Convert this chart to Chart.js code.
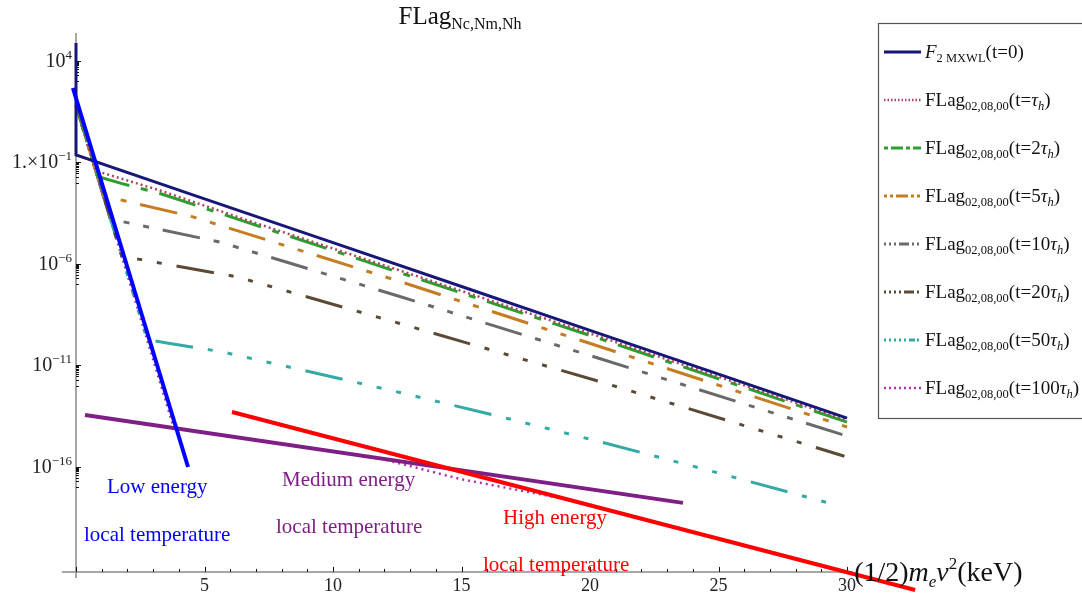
<!DOCTYPE html>
<html>
<head>
<meta charset="utf-8">
<script src="https://cdn.jsdelivr.net/npm/chart.js@4.4.1/dist/chart.umd.min.js"></script>
<style>
  html, body { margin: 0; padding: 0; background: #fff; }
</style>
</head>
<body>
<canvas id="fchart" width="1082" height="596"></canvas>
<script>
// energies in keV, values given as log10 of the distribution
var xMaxwell = [0, 0, 5, 10, 15, 20, 25, 30];
var logMaxwell = [4.89, -0.63, -2.79, -4.95, -7.11, -9.27, -11.43, -13.59];
var xTau1 = [0, 0.77, 3.27, 7, 12.6, 20.4, 30];
var logTau1 = [1.8, -1.41, -2.38, -3.99, -6.32, -9.59, -13.69];
var xTau2 = [0, 0.84, 1.79, 3.27, 10, 20.4, 30];
var logTau2 = [1.8, -1.69, -2.04, -2.53, -5.34, -9.69, -13.79];
var xTau5 = [0, 1.06, 1.6, 4.55, 12.6, 20.4, 30];
var logTau5 = [1.8, -2.64, -2.80, -3.68, -6.86, -10.08, -14.03];
var xTau10 = [0, 1.34, 1.79, 5.6, 12.6, 20.4, 30];
var logTau10 = [1.8, -3.79, -3.91, -4.92, -7.60, -10.67, -14.48];
var xTau20 = [0, 1.78, 2.41, 6.26, 12.6, 20.4, 29.9];
var logTau20 = [1.8, -5.62, -5.76, -6.63, -8.93, -11.80, -15.47];
var xTau50 = [0, 2.77, 3.54, 5.72, 8.72, 12.6, 16.5, 20.4, 24.3, 29.5];
var logTau50 = [1.8, -9.73, -9.89, -10.34, -11.20, -12.33, -13.52, -14.76, -16.06, -17.85];
var xTau100 = [0, 3.81, 11.83, 14.94, 18.83, 24.28, 30];
var logTau100 = [1.8, -14.08, -15.58, -16.59, -17.53, -19.30, -21.17];

// fitted "local temperature" lines
var xLow = [-0.12, 4.36];
var logLow = [2.67, -16.0];
var xMedium = [0.35, 23.62];
var logMedium = [-13.44, -17.77];
var xHigh = [6.07, 32.65];
var logHigh = [-13.29, -22.06];

var timeLabels = ['0', '', '2', '5', '10', '20', '50', '100'];
var xTicks = [5, 10, 15, 20, 25, 30];
var yTicks = [1e4, 1e-1, 1e-6, 1e-11, 1e-16];
var yTickBase = ['10', '1.\u00d710', '10', '10', '10'];
var yTickExp = ['4', '\u22121', '\u22126', '\u221211', '\u221216'];
var xAxisAt = 6.76e-22;

var serif = '"Liberation Serif", "Times New Roman", serif';

function pts(xs, ls) {
  return xs.map(function (x, i) { return { x: x, y: Math.pow(10, ls[i]) }; });
}

function font(size, italic) {
  return (italic ? 'italic ' : '') + size + 'px ' + serif;
}

// parts: [text, size, italic, dy]
function drawParts(ctx, x, y, parts, align) {
  var w = 0;
  parts.forEach(function (p) { ctx.font = font(p[1], p[2]); w += ctx.measureText(p[0]).width; });
  if (align === 'right') x -= w;
  if (align === 'center') x -= w / 2;
  parts.forEach(function (p) {
    ctx.font = font(p[1], p[2]);
    ctx.fillText(p[0], x, y + (p[3] || 0));
    x += ctx.measureText(p[0]).width;
  });
}

var styles = [
  { color: '#17177a', width: 3, dash: [], legendDash: [] },
  { color: '#a8465f', width: 2.5, dash: [2, 3], legendDash: [1.5, 2] },
  { color: '#2d9e2d', width: 3, dash: [38, 12, 7, 12], legendDash: [4, 3, 12, 3] },
  { color: '#c67d22', width: 3, dash: [6, 14, 6, 14, 38, 14], legendDash: [3, 3, 3, 3, 12, 3] },
  { color: '#6a6a6a', width: 3, dash: [6, 14, 6, 14, 6, 14, 38, 14], legendDash: [2, 3, 2, 3, 2, 3, 10, 3] },
  { color: '#5a4a36', width: 3, dash: [5, 15, 5, 15, 5, 15, 5, 15, 38, 15], legendDash: [2, 3, 2, 3, 2, 3, 2, 3, 10, 3] },
  { color: '#33aaa5', width: 3, dash: [5, 15, 5, 15, 5, 15, 5, 15, 5, 15, 38, 15], legendDash: [2, 3, 2, 3, 2, 3, 2, 3, 2, 3, 6, 2] },
  { color: '#b030b0', width: 2.5, dash: [2, 4], legendDash: [2, 3] }
];

var curves = [
  pts(xMaxwell, logMaxwell), pts(xTau1, logTau1), pts(xTau2, logTau2), pts(xTau5, logTau5),
  pts(xTau10, logTau10), pts(xTau20, logTau20), pts(xTau50, logTau50), pts(xTau100, logTau100)
];

var datasets = [
  { data: pts(xLow, logLow), borderColor: '#0000ff', borderWidth: 4 },
  { data: pts(xHigh, logHigh), borderColor: '#ff0000', borderWidth: 4 },
  { data: pts(xMedium, logMedium), borderColor: '#7f1f86', borderWidth: 4 }
];
curves.forEach(function (c, i) {
  datasets.push({ data: c, borderColor: styles[i].color, borderWidth: styles[i].width, borderDash: styles[i].dash });
});

var axesPlugin = {
  id: 'mathAxes',
  beforeDatasetsDraw: function (chart) {
    var ctx = chart.ctx, xs = chart.scales.x, ys = chart.scales.y;
    var x0 = xs.getPixelForValue(0), yAx = ys.getPixelForValue(xAxisAt);
    ctx.save();
    ctx.strokeStyle = '#8a8a8a';
    ctx.lineWidth = 1.5;
    ctx.beginPath();
    ctx.moveTo(x0, chart.chartArea.top + 3);
    ctx.lineTo(x0, yAx + 6);
    ctx.moveTo(xs.getPixelForValue(-0.55), yAx);
    ctx.lineTo(xs.getPixelForValue(30.2), yAx);
    ctx.stroke();

    ctx.strokeStyle = '#111';
    ctx.lineWidth = 1;
    ctx.beginPath();
    for (var k = 0; k <= 30; k++) {
      var px = Math.round(xs.getPixelForValue(k)) + 0.5;
      ctx.moveTo(px, yAx);
      ctx.lineTo(px, yAx - (k % 5 === 0 ? 5 : 3));
    }
    yTicks.forEach(function (v) {
      var py = Math.round(ys.getPixelForValue(v)) + 0.5;
      ctx.moveTo(x0, py);
      ctx.lineTo(x0 + 5, py);
      for (var m = 1; m <= 9; m++) {
        var pm = Math.round(ys.getPixelForValue(v * m / 10)) + 0.5;
        ctx.moveTo(x0, pm);
        ctx.lineTo(x0 + 3, pm);
      }
    });
    ctx.stroke();

    ctx.fillStyle = '#222';
    ctx.textBaseline = 'alphabetic';
    ctx.textAlign = 'left';
    xTicks.forEach(function (v) {
      drawParts(ctx, xs.getPixelForValue(v), yAx + 19, [[String(v), 18]], 'center');
    });
    yTicks.forEach(function (v, i) {
      var py = ys.getPixelForValue(v);
      drawParts(ctx, x0 - 4, py + 6, [[yTickBase[i], 20], [yTickExp[i], 13, false, -8]], 'right');
    });
    ctx.restore();
  },
  afterDatasetsDraw: function (chart) {
    var ctx = chart.ctx, xs = chart.scales.x, ys = chart.scales.y;
    var yAx = ys.getPixelForValue(xAxisAt);
    ctx.save();
    ctx.textBaseline = 'alphabetic';
    ctx.textAlign = 'left';
    ctx.fillStyle = '#111';
    // title
    drawParts(ctx, 460, 24, [['FLag', 25], ['Nc,Nm,Nh', 16, false, 5]], 'center');
    // x axis label
    drawParts(ctx, xs.getPixelForValue(30.2) + 2, yAx + 9, [
      ['(1/2)', 28], ['m', 28, true], ['e', 17, true, 6], ['v', 28, true], ['2', 17, false, -12], ['(keV)', 28]
    ]);

    // annotations
    ctx.textBaseline = 'middle';
    ctx.font = font(21);
    ctx.fillStyle = '#0000ff';
    ctx.fillText('Low energy', 107, 487);
    ctx.fillText('local temperature', 84, 535);
    ctx.fillStyle = '#7f1f86';
    ctx.fillText('Medium energy', 282, 480);
    ctx.fillText('local temperature', 276, 527);
    ctx.fillStyle = '#ff0000';
    ctx.fillText('High energy', 503, 518);
    ctx.fillText('local temperature', 483, 565);

    // legend
    ctx.fillStyle = '#fff';
    ctx.fillRect(878.5, 23.5, 220, 395);
    ctx.strokeStyle = '#555';
    ctx.lineWidth = 1.2;
    ctx.strokeRect(878.5, 23.5, 220, 395);
    ctx.textBaseline = 'alphabetic';
    styles.forEach(function (s, i) {
      var ry = 52 + i * 48;
      ctx.save();
      ctx.strokeStyle = s.color;
      ctx.lineWidth = s.width;
      ctx.setLineDash(s.legendDash);
      ctx.beginPath();
      ctx.moveTo(884, ry);
      ctx.lineTo(921, ry);
      ctx.stroke();
      ctx.restore();
      ctx.fillStyle = '#111';
      var parts;
      if (i === 0) {
        parts = [['F', 19, true], ['2 MXWL', 12.5, false, 4], ['(t=0)', 19]];
      } else {
        parts = [['FLag', 19], ['02,08,00', 12.5, false, 4], ['(t=' + timeLabels[i], 19], ['\u03c4', 19, true], ['h', 12.5, true, 4], [')', 19]];
      }
      drawParts(ctx, 925, ry + 6, parts);
    });
    ctx.restore();
  }
};

new Chart(document.getElementById('fchart'), {
  type: 'line',
  data: { datasets: datasets },
  options: {
    responsive: false,
    animation: false,
    layout: { padding: { left: 62, top: 30, right: 162, bottom: 4 } },
    elements: { point: { radius: 0 }, line: { tension: 0, fill: false } },
    plugins: { legend: { display: false }, title: { display: false }, tooltip: { enabled: false } },
    scales: {
      x: { type: 'linear', min: -0.545, max: 32.84, display: false },
      y: { type: 'logarithmic', min: 6.92e-23, max: 3.365e5, bounds: 'data', display: false }
    }
  },
  plugins: [axesPlugin]
});
</script>
</body>
</html>
